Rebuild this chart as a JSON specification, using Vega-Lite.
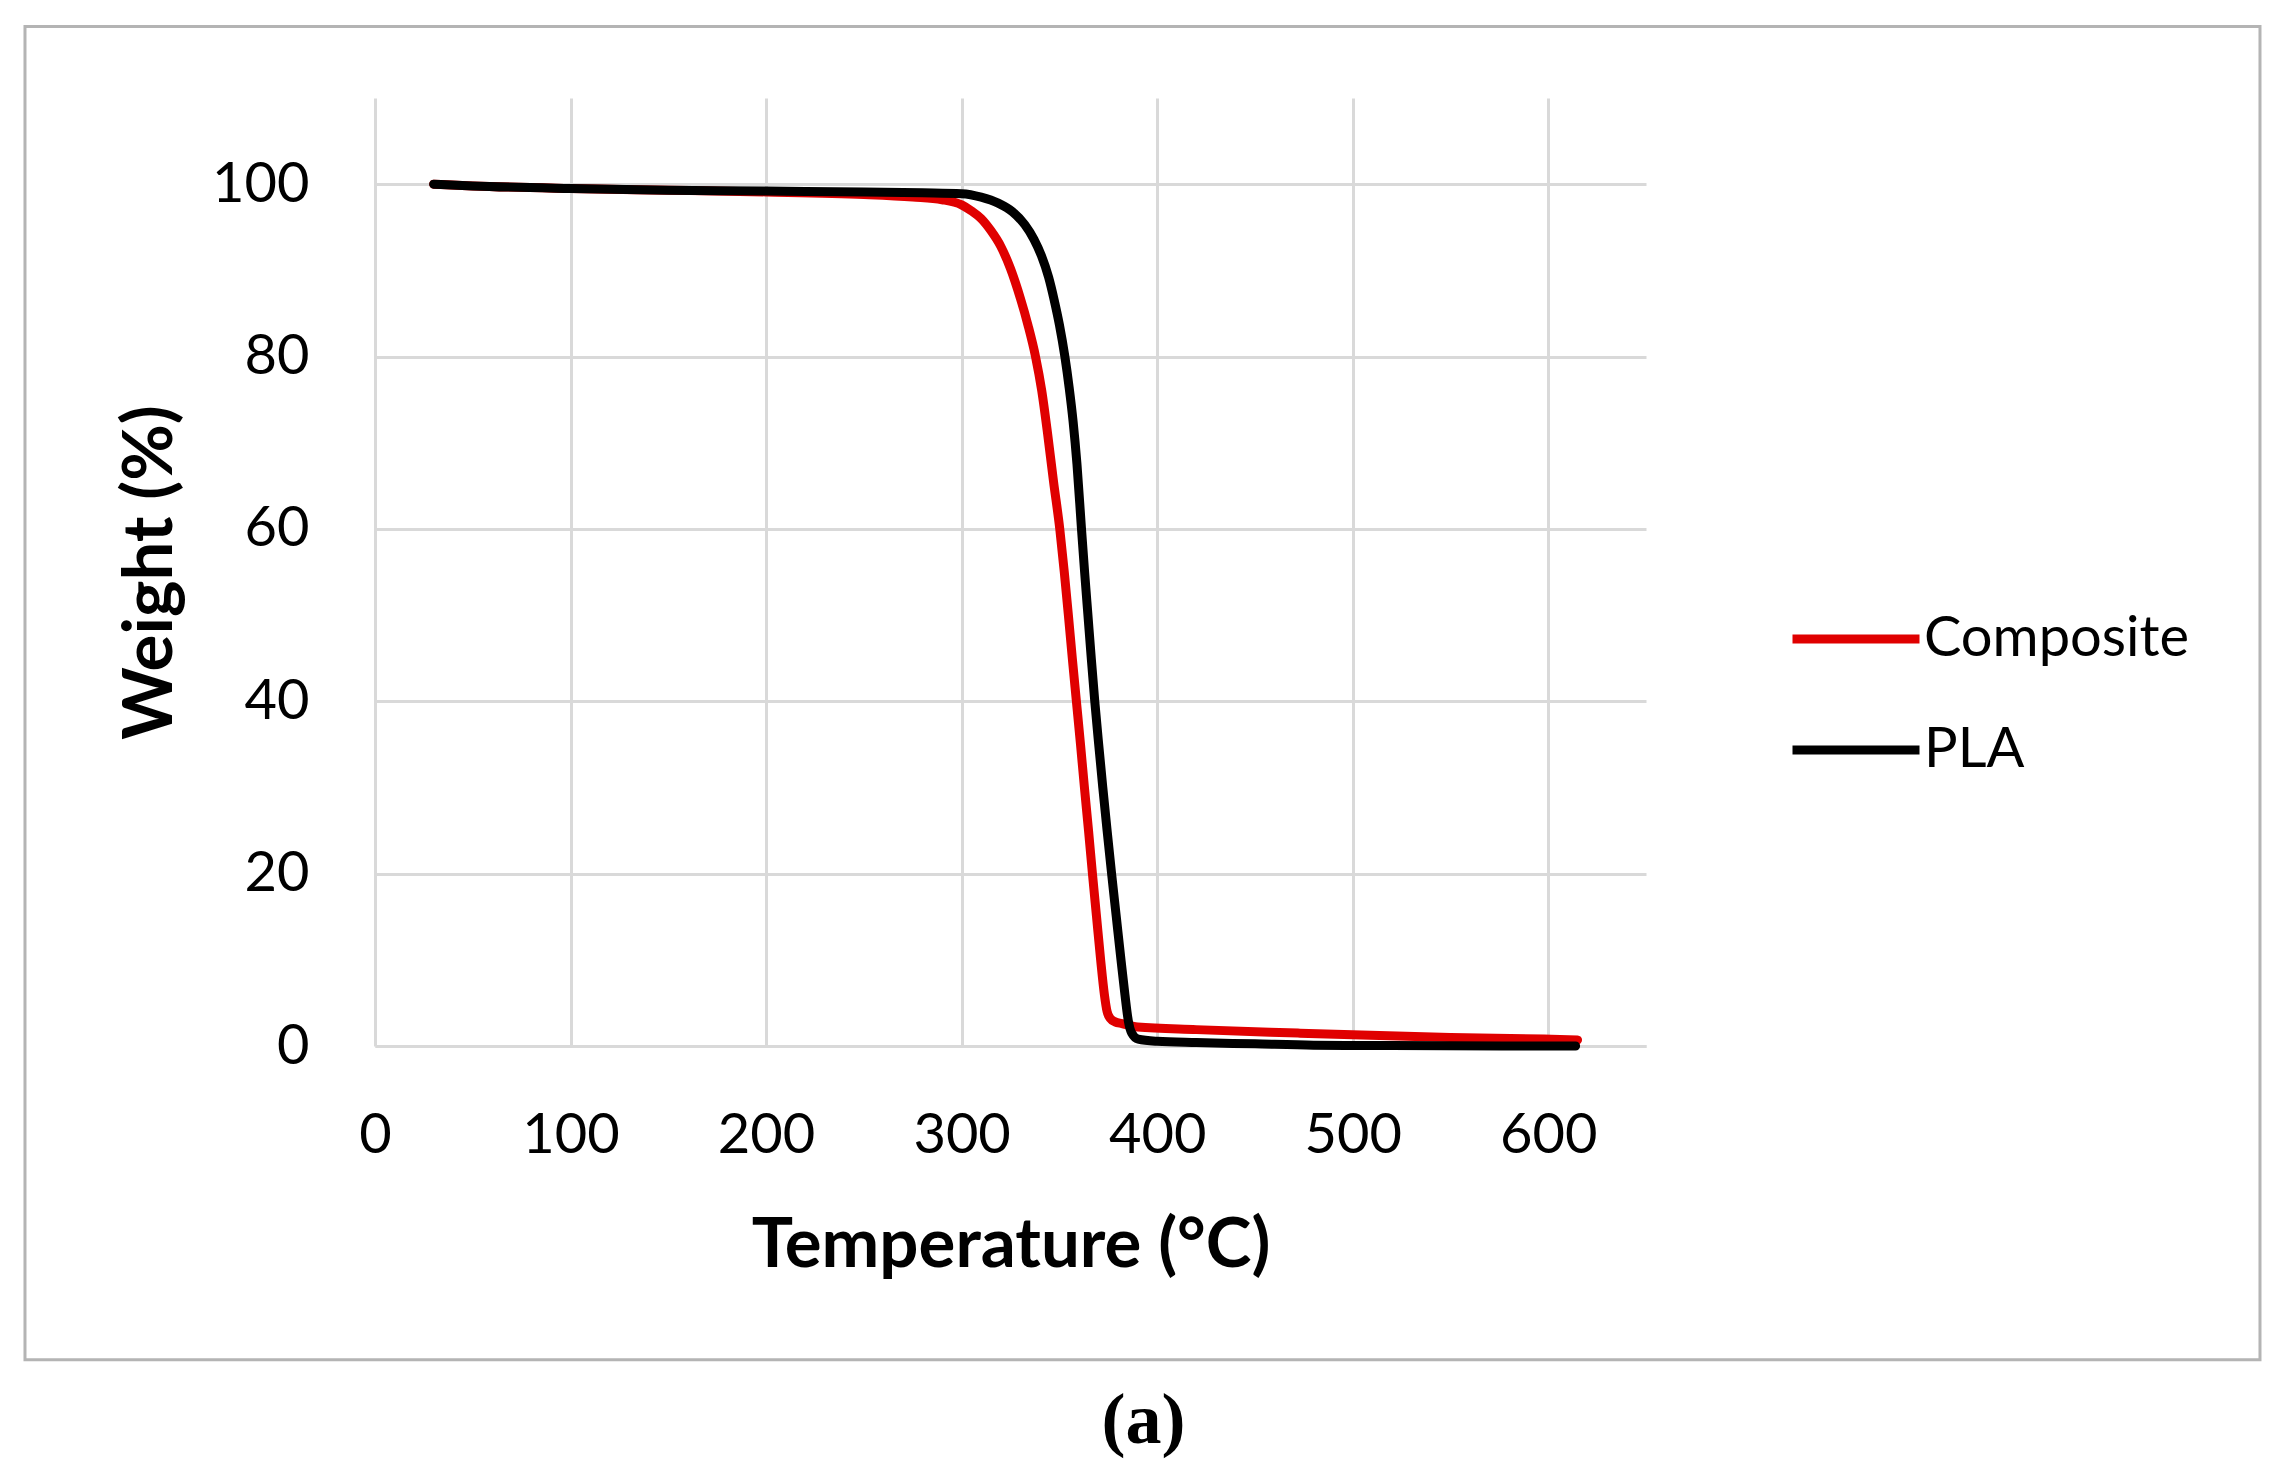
{
  "$schema": "https://vega.github.io/schema/vega-lite/v6.json",
  "autosize": "none",
  "width": 1271,
  "height": 948,
  "padding": {"left": 375, "top": 98, "right": 642, "bottom": 424},
  "background": "white",
  "datasets": {
    "tga": [
      {"series": "Composite", "temp": 30, "weight": 100},
      {"series": "Composite", "temp": 50, "weight": 99.8},
      {"series": "Composite", "temp": 100, "weight": 99.5},
      {"series": "Composite", "temp": 150, "weight": 99.3},
      {"series": "Composite", "temp": 200, "weight": 99.1},
      {"series": "Composite", "temp": 250, "weight": 98.8},
      {"series": "Composite", "temp": 275, "weight": 98.5},
      {"series": "Composite", "temp": 290, "weight": 98.2},
      {"series": "Composite", "temp": 300, "weight": 97.6},
      {"series": "Composite", "temp": 305, "weight": 96.9},
      {"series": "Composite", "temp": 310, "weight": 96.0},
      {"series": "Composite", "temp": 315, "weight": 94.6},
      {"series": "Composite", "temp": 320, "weight": 92.8},
      {"series": "Composite", "temp": 325, "weight": 90.2},
      {"series": "Composite", "temp": 330, "weight": 86.8},
      {"series": "Composite", "temp": 334, "weight": 83.6},
      {"series": "Composite", "temp": 337.8, "weight": 80},
      {"series": "Composite", "temp": 341, "weight": 76},
      {"series": "Composite", "temp": 344, "weight": 71},
      {"series": "Composite", "temp": 347, "weight": 65.5},
      {"series": "Composite", "temp": 350.2, "weight": 60},
      {"series": "Composite", "temp": 352.5, "weight": 55},
      {"series": "Composite", "temp": 354.6, "weight": 50},
      {"series": "Composite", "temp": 356.6, "weight": 45},
      {"series": "Composite", "temp": 358.7, "weight": 40},
      {"series": "Composite", "temp": 360.8, "weight": 35},
      {"series": "Composite", "temp": 362.8, "weight": 30},
      {"series": "Composite", "temp": 364.9, "weight": 25},
      {"series": "Composite", "temp": 366.9, "weight": 20},
      {"series": "Composite", "temp": 369.0, "weight": 15},
      {"series": "Composite", "temp": 371.1, "weight": 10},
      {"series": "Composite", "temp": 373.0, "weight": 6},
      {"series": "Composite", "temp": 374.4, "weight": 4},
      {"series": "Composite", "temp": 376, "weight": 3.2},
      {"series": "Composite", "temp": 378.5, "weight": 2.8},
      {"series": "Composite", "temp": 382, "weight": 2.6},
      {"series": "Composite", "temp": 390, "weight": 2.2},
      {"series": "Composite", "temp": 420, "weight": 1.9},
      {"series": "Composite", "temp": 472, "weight": 1.5},
      {"series": "Composite", "temp": 500, "weight": 1.3},
      {"series": "Composite", "temp": 550, "weight": 1.0},
      {"series": "Composite", "temp": 598, "weight": 0.8},
      {"series": "Composite", "temp": 615, "weight": 0.7},
      {"series": "PLA", "temp": 30, "weight": 100},
      {"series": "PLA", "temp": 50, "weight": 99.8},
      {"series": "PLA", "temp": 100, "weight": 99.5},
      {"series": "PLA", "temp": 150, "weight": 99.3},
      {"series": "PLA", "temp": 200, "weight": 99.2},
      {"series": "PLA", "temp": 250, "weight": 99.1},
      {"series": "PLA", "temp": 280, "weight": 99.0},
      {"series": "PLA", "temp": 300, "weight": 98.9},
      {"series": "PLA", "temp": 310, "weight": 98.5},
      {"series": "PLA", "temp": 318.7, "weight": 97.8},
      {"series": "PLA", "temp": 326, "weight": 96.8},
      {"series": "PLA", "temp": 332.3, "weight": 95.3},
      {"series": "PLA", "temp": 337, "weight": 93.6},
      {"series": "PLA", "temp": 340.8, "weight": 91.7},
      {"series": "PLA", "temp": 344.5, "weight": 89.2},
      {"series": "PLA", "temp": 347.3, "weight": 86.6},
      {"series": "PLA", "temp": 350, "weight": 83.7},
      {"series": "PLA", "temp": 352.8, "weight": 80},
      {"series": "PLA", "temp": 355, "weight": 76.4},
      {"series": "PLA", "temp": 357, "weight": 72.5},
      {"series": "PLA", "temp": 359, "weight": 67.5},
      {"series": "PLA", "temp": 361.3, "weight": 60},
      {"series": "PLA", "temp": 362.9, "weight": 55},
      {"series": "PLA", "temp": 364.6, "weight": 50},
      {"series": "PLA", "temp": 366.3, "weight": 45},
      {"series": "PLA", "temp": 368.1, "weight": 40},
      {"series": "PLA", "temp": 370.1, "weight": 35},
      {"series": "PLA", "temp": 372.2, "weight": 30},
      {"series": "PLA", "temp": 374.4, "weight": 25},
      {"series": "PLA", "temp": 376.7, "weight": 20},
      {"series": "PLA", "temp": 379.1, "weight": 15},
      {"series": "PLA", "temp": 381.5, "weight": 10},
      {"series": "PLA", "temp": 383.5, "weight": 6},
      {"series": "PLA", "temp": 385.2, "weight": 3},
      {"series": "PLA", "temp": 387, "weight": 1.5},
      {"series": "PLA", "temp": 390.3, "weight": 0.8},
      {"series": "PLA", "temp": 400, "weight": 0.55},
      {"series": "PLA", "temp": 420, "weight": 0.4},
      {"series": "PLA", "temp": 450, "weight": 0.25},
      {"series": "PLA", "temp": 480, "weight": 0.1},
      {"series": "PLA", "temp": 520, "weight": 0.05},
      {"series": "PLA", "temp": 614, "weight": 0}
    ]
  },
  "layer": [
    {
      "data": {"values": [{}]},
      "mark": {"type": "rect", "filled": false, "stroke": "#b4b4b4", "strokeWidth": 3, "clip": false},
      "encoding": {
        "x": {"datum": -179, "type": "quantitative"},
        "x2": {"datum": 964},
        "y": {"datum": 118.3, "type": "quantitative"},
        "y2": {"datum": -36.4}
      }
    },
    {
      "data": {"name": "tga"},
      "mark": {"type": "line", "strokeWidth": 9, "strokeCap": "round", "strokeJoin": "round", "interpolate": "monotone"},
      "encoding": {
        "x": {
          "field": "temp",
          "type": "quantitative",
          "title": "Temperature (°C)",
          "scale": {"domain": [0, 650], "nice": false, "zero": false},
          "axis": {
            "values": [0, 100, 200, 300, 400, 500, 600],
            "grid": true,
            "ticks": false,
            "labelFlush": false,
            "domainColor": "#d9d9d9",
            "domainWidth": 3,
            "labelPadding": 62,
            "titlePadding": 48
          }
        },
        "y": {
          "field": "weight",
          "type": "quantitative",
          "title": "Weight (%)",
          "scale": {"domain": [0, 110], "nice": false, "zero": false},
          "axis": {
            "values": [0, 20, 40, 60, 80, 100],
            "grid": true,
            "ticks": false,
            "domain": false,
            "labelPadding": 66,
            "titlePadding": 26
          }
        },
        "color": {
          "field": "series",
          "type": "nominal",
          "scale": {"domain": ["Composite", "PLA"], "range": ["#e00000", "#000000"]},
          "legend": {
            "title": null,
            "orient": "none",
            "legendX": 1413,
            "legendY": 473,
            "symbolType": "stroke",
            "symbolSize": 16129,
            "symbolStrokeWidth": 9,
            "labelFontSize": 56,
            "labelOffset": 0,
            "rowPadding": 15,
            "padding": 0
          }
        }
      }
    },
    {
      "data": {"values": [{}]},
      "mark": {"type": "text", "text": "(a)", "font": "Liberation Serif", "fontWeight": "bold", "fontSize": 72, "baseline": "middle", "align": "center", "clip": false},
      "encoding": {
        "x": {"datum": 393, "type": "quantitative"},
        "y": {"datum": -43.5, "type": "quantitative"}
      }
    }
  ],
  "config": {
    "font": "Lato",
    "view": {"stroke": null},
    "axis": {
      "gridColor": "#d9d9d9",
      "gridWidth": 3,
      "labelFont": "Lato",
      "labelFontSize": 56,
      "labelColor": "#000000",
      "titleFont": "Lato",
      "titleFontSize": 69,
      "titleFontWeight": "bold",
      "titleColor": "#000000"
    },
    "legend": {"labelFont": "Lato", "labelColor": "#000000", "labelLimit": 0}
  }
}
